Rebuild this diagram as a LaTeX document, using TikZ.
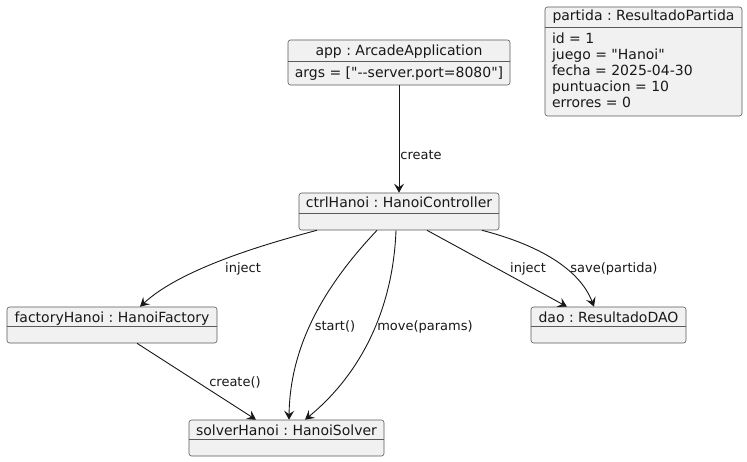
\documentclass[tikz,border=0pt]{standalone}
\usepackage{fontspec}
\newfontfamily\umlfont{DejaVu Sans}
\usetikzlibrary{arrows.meta}
\frenchspacing
\definecolor{fillColor}{RGB}{241,241,241}
\definecolor{drawColor}{RGB}{24,24,24}
\definecolor{borderColor}{RGB}{90,90,90}
\tikzset{
  obj/.style={draw=borderColor,fill=fillColor,line width=0.6pt,rounded corners=2.5pt,inner sep=0pt},
  split/.style={draw=borderColor,line width=0.6pt},
  hd/.style={text=drawColor,anchor=base,inner sep=0pt,outer sep=0pt,font=\umlfont\fontsize{14}{16}\selectfont},
  attr/.style={text=drawColor,anchor=base west,inner sep=0pt,outer sep=0pt,font=\umlfont\fontsize{14}{16}\selectfont},
  lbl/.style={text=drawColor,anchor=base,inner sep=0pt,outer sep=0pt,font=\umlfont\fontsize{13}{15}\selectfont},
  link/.style={draw=drawColor,line width=0.9pt,-{Stealth[length=9pt,width=10pt,inset=3.5pt]}}
}
\begin{document}
\begin{tikzpicture}[x=1pt,y=1pt]
\path[use as bounding box,fill=white] (0,0) rectangle (747,461);

% objects
\node[obj,minimum width=222,minimum height=45] (app) at (399,398.5) {};
\path (app.north west) ++(0,-22) coordinate (appSplit);
\draw[split] (appSplit) -- (appSplit -| app.east);
\node[hd] (appTitle) at (399,405) {app : ArcadeApplication};
\node[hd] (appArgs) at (399,383) {args = ["--server.port=8080"]};

\node[obj,minimum width=200,minimum height=37] (ctrlHanoi) at (399,249.5) {};
\path (ctrlHanoi.north west) ++(0,-21) coordinate (ctrlSplit);
\draw[split] (ctrlSplit) -- (ctrlSplit -| ctrlHanoi.east);
\node[hd] (ctrlTitle) at (399,253) {ctrlHanoi : HanoiController};

\node[obj,minimum width=210,minimum height=36] (factoryHanoi) at (112,136) {};
\path (factoryHanoi.north west) ++(0,-20) coordinate (factorySplit);
\draw[split] (factorySplit) -- (factorySplit -| factoryHanoi.east);
\node[hd] (factoryTitle) at (112,139) {factoryHanoi : HanoiFactory};

\node[obj,minimum width=195,minimum height=36] (solverHanoi) at (286.5,23) {};
\path (solverHanoi.north west) ++(0,-20) coordinate (solverSplit);
\draw[split] (solverSplit) -- (solverSplit -| solverHanoi.east);
\node[hd] (solverTitle) at (286.5,26) {solverHanoi : HanoiSolver};

\node[obj,minimum width=155,minimum height=36] (dao) at (608.5,136) {};
\path (dao.north west) ++(0,-20) coordinate (daoSplit);
\draw[split] (daoSplit) -- (daoSplit -| dao.east);
\node[hd] (daoTitle) at (608.5,139) {dao : ResultadoDAO};

\node[obj,minimum width=197,minimum height=109] (partida) at (643.5,399.5) {};
\path (partida.north west) ++(0,-21) coordinate (partidaSplit);
\draw[split] (partidaSplit) -- (partidaSplit -| partida.east);
\node[hd] (partidaTitle) at (643.5,440) {partida : ResultadoPartida};
\node[attr] (partidaId) at (552,417) {id = 1};
\node[attr] (partidaJuego) at (552,401) {juego = "Hanoi"};
\node[attr] (partidaFecha) at (552,385) {fecha = 2025-04-30};
\node[attr] (partidaPunt) at (552,369) {puntuacion = 10};
\node[attr] (partidaErr) at (552,353) {errores = 0};

% links
\draw[link] (app.south) -- (ctrlHanoi.north);
\draw[link] ([xshift=-82]ctrlHanoi.south) .. controls +(-57,-15) and +(40,37) .. ([xshift=28]factoryHanoi.north);
\draw[link] ([xshift=-22]ctrlHanoi.south) .. controls +(-52,-55) and +(1,75) .. ([xshift=2.5]solverHanoi.north);
\draw[link] ([xshift=-3]ctrlHanoi.south) .. controls +(-3,-80) and +(55,45) .. ([xshift=18.5]solverHanoi.north);
\draw[link] ([xshift=28]ctrlHanoi.south) -- ([xshift=-41.5]dao.north);
\draw[link] ([xshift=83]ctrlHanoi.south) .. controls +(58,-15) and +(-14,37) .. ([xshift=-14.5]dao.north);
\draw[link] ([xshift=25]factoryHanoi.south) -- ([xshift=-30.5]solverHanoi.north);

% labels
\node[lbl] (createLbl) at (421,301.5) {create};
\node[lbl] (injectFactoryLbl) at (243,188.3) {inject};
\node[lbl] (startLbl) at (335,131) {start()};
\node[lbl] (moveLbl) at (425,131) {move(params)};
\node[lbl] (injectDaoLbl) at (528,188.3) {inject};
\node[lbl] (saveLbl) at (614,188.3) {save(partida)};
\node[lbl] (createSolverLbl) at (235,75) {create()};
\end{tikzpicture}
\end{document}
